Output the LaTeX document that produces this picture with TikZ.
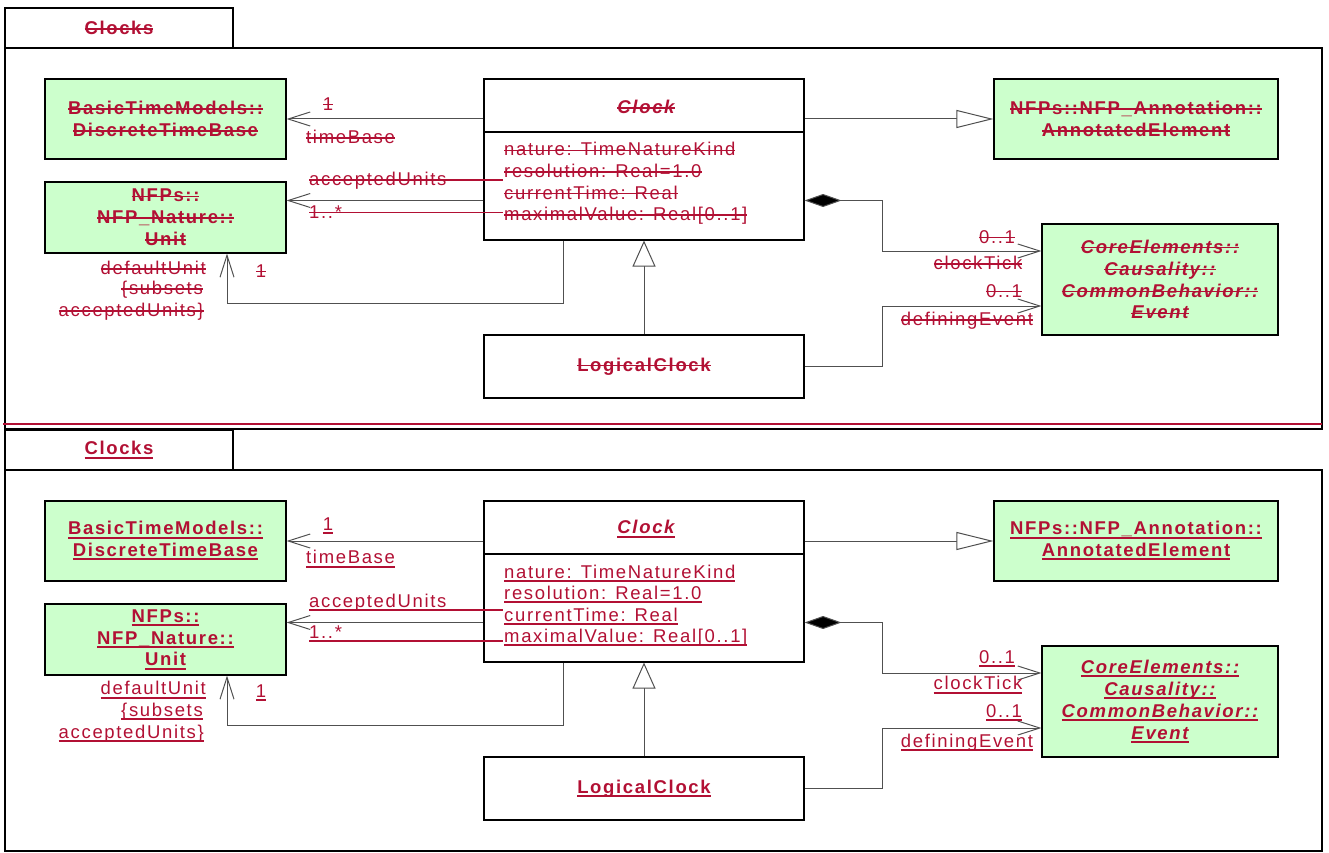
\documentclass[tikz,border=0pt]{standalone}
\usepackage{fontspec}
\newfontfamily\umlfont[LetterSpace=9]{Liberation Sans}
\usetikzlibrary{arrows.meta}
\definecolor{txtred}{RGB}{178,16,52}
\definecolor{clsgreen}{RGB}{204,255,204}
\definecolor{conn}{RGB}{80,80,80}
\newsavebox\decbox
\newcommand\strk[1]{\sbox\decbox{#1}\rlap{\usebox\decbox}\rule[0.27em]{\wd\decbox}{1.3pt}}
\newcommand\undl[1]{\sbox\decbox{#1}\rlap{\usebox\decbox}\rule[-0.2em]{\wd\decbox}{2pt}}
\newcommand\fA{\umlfont\fontsize{18.5}{21.8}\selectfont}
\tikzset{
  lbl/.style={text=txtred, font=\fA, inner sep=0pt},
  frm/.style={draw=black, line width=1.4pt, inner sep=0pt},
  cls/.style={draw=black, fill=clsgreen, line width=1.1pt, text=txtred, font=\fA\bfseries, align=center, inner sep=0pt},
  plain/.style={draw=black, fill=white, line width=1.1pt, text=txtred, font=\fA\bfseries, inner sep=0pt},
  conline/.style={draw=conn, line width=1pt},
  assoc/.style={conline, -{Straight Barb[length=22pt,width=14pt]}},
  gen/.style={conline, -{Triangle[open,length=26pt,width=23pt,fill=white]}},
  real/.style={conline, -{Triangle[open,length=37pt,width=18pt,fill=white]}},
  comp/.style={conline, {Diamond[length=37pt,width=13pt,fill=black]}-{Straight Barb[length=22pt,width=14pt]}},
}
\newcommand\umlpanel[3]{%
\begin{scope}[shift={(0,#3)}]
  \node[frm, minimum width=1317pt, minimum height=381pt] (#1frame) at (663.5,238.5) {};
  \node[frm, fill=white, minimum width=228pt, minimum height=40pt, text=txtred, font=\fA\bfseries] (#1tab) at (119,28) {#2{Clocks}};
  % classes
  \node[cls, minimum width=241pt, minimum height=80pt] (#1dtb) at (165.5,119) {#2{BasicTimeModels::}\\#2{DiscreteTimeBase}};
  \node[cls, minimum width=241pt, minimum height=71pt] (#1unit) at (165.5,217.5) {#2{NFPs::}\\#2{NFP\_Nature::}\\#2{Unit}};
  \node[plain, minimum width=320pt, minimum height=161pt] (#1clock) at (644,159.5) {};
  \draw[black, line width=1.1pt] (#1clock.west |- 0,132) -- (#1clock.east |- 0,132);
  \node[lbl, font=\fA\bfseries\itshape] (#1clockname) at (646,107) {#2{Clock}};
  \node[lbl, anchor=base west] (#1att1) at (504,156) {#2{nature: TimeNatureKind}};
  \node[lbl, anchor=base west] (#1att2) at (504,177.5) {#2{resolution: Real=1.0}};
  \node[lbl, anchor=base west] (#1att3) at (504,199) {#2{currentTime: Real}};
  \node[lbl, anchor=base west] (#1att4) at (504,220.5) {#2{maximalValue: Real[0..1]}};
  \node[cls, minimum width=284pt, minimum height=80pt] (#1annot) at (1136,119) {#2{NFPs::NFP\_Annotation::}\\#2{AnnotatedElement}};
  \node[cls, font=\fA\bfseries\itshape, minimum width=236pt, minimum height=111pt] (#1event) at (1160,279.5) {#2{CoreElements::}\\#2{Causality::}\\#2{CommonBehavior::}\\#2{Event}};
  \node[plain, minimum width=320pt, minimum height=63pt] (#1lclock) at (644,366.5) {#2{LogicalClock}};
  % connectors
  \draw[assoc] (#1clock.west |- #1dtb.east) -- (#1dtb.east);
  \draw[assoc] (#1clock.west |- 0,200.5) -- (#1unit.east |- 0,200.5);
  \draw[assoc] (#1clock.south -| 563,0) -- (563,303) -| (#1unit.south -| 227,0);
  \draw[gen] (#1lclock.north) -- (#1clock.south);
  \draw[real] (#1clock.east |- #1annot.west) -- (#1annot.west);
  \draw[comp] (#1clock.east |- 0,200.5) -- (882,200.5) |- (#1event.west |- 0,251);
  \draw[assoc] (#1lclock.east) -- (882,366.5) |- (#1event.west |- 0,306);
  % labels
  \node[lbl] (#1l1) at (328,104) {#2{1}};
  \node[lbl, anchor=west] (#1l2) at (306,137) {#2{timeBase}};
  \node[lbl, anchor=west] (#1l3) at (309,181) {#2{\makebox[194pt][l]{acceptedUnits}}};
  \node[lbl, anchor=west] (#1l4) at (309,212) {#2{\makebox[194pt][l]{1..*}}};
  \node[lbl, anchor=east] (#1l5) at (206,268) {#2{defaultUnit}};
  \node[lbl, anchor=east] (#1l6) at (203,290) {#2{\{subsets}};
  \node[lbl, anchor=east] (#1l7) at (204,312) {#2{acceptedUnits\}}};
  \node[lbl] (#1l8) at (261,271) {#2{1}};
  \node[lbl] (#1l9) at (997,237) {#2{0..1}};
  \node[lbl] (#1l10) at (978,263) {#2{clockTick}};
  \node[lbl] (#1l11) at (1004,291) {#2{0..1}};
  \node[lbl] (#1l12) at (967,321) {#2{definingEvent}};
\end{scope}}
\begin{document}
\begin{tikzpicture}[x=1pt, y=-1pt]
  \useasboundingbox (0,0) rectangle (1329,853);
  \umlpanel{a}{\strk}{0}
  \coordinate (redL) at (3,424);
  \coordinate (redR) at (1322,424);
  \draw[txtred, line width=2pt] (redL) -- (redR);
  \umlpanel{b}{\undl}{422}
\end{tikzpicture}
\end{document}
